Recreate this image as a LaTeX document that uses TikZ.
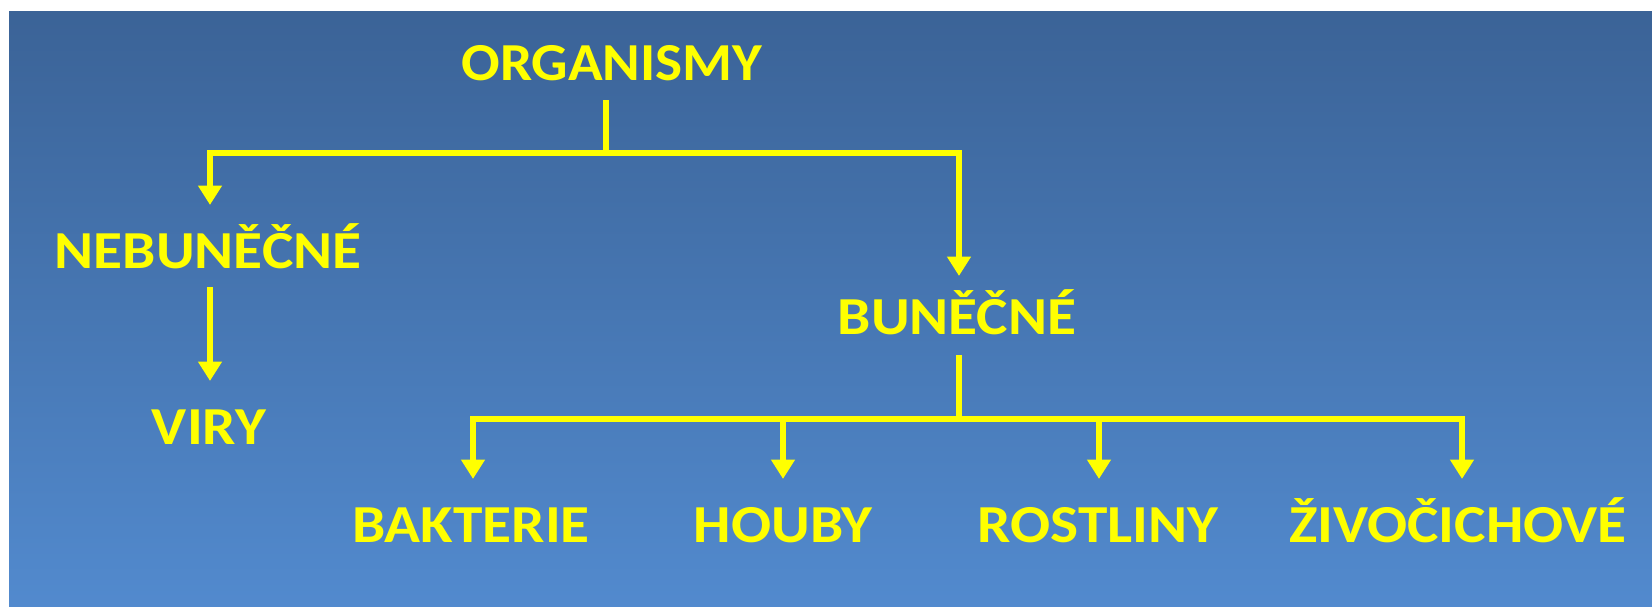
\documentclass[tikz,border=0pt]{standalone}
\usepackage{fontspec}
\setmainfont{Carlito}
\usetikzlibrary{arrows.meta}
\definecolor{bgtop}{RGB}{59,99,151}
\definecolor{bgbot}{RGB}{82,138,206}
\definecolor{ylw}{RGB}{255,255,0}
\newcommand\wide[1]{\scalebox{1.11}[1]{#1}}

\begin{document}
\begin{tikzpicture}[x=0.01cm, y=-0.01cm,
  lbl/.style={anchor=base, inner sep=0pt, text=ylw, font=\fontsize{15.2}{18}\selectfont\bfseries},
  link/.style={draw=ylw, line width=1.7pt},
  arr/.style={link, -{Triangle[width=6.5pt, length=5.5pt]}}]
\useasboundingbox (0,0) rectangle (1652,607);
\fill[white] (0,0) rectangle (1652,607);
\shade[top color=bgtop, bottom color=bgbot] (9,12) rectangle (1652,607);
\node[lbl] (org) at (612,81) {\scalebox{1.07}[1]{ORGANISMY}};
\node[lbl] (nebun) at (208,269) {\wide{NEBUNĚČNÉ}};
\node[lbl] (viry) at (209,445) {\wide{VIRY}};
\node[lbl] (bun) at (957,335) {\wide{BUNĚČNÉ}};
\node[lbl] (bakt) at (471,543) {\wide{BAKTERIE}};
\node[lbl] (houby) at (783,543) {\wide{HOUBY}};
\node[lbl] (rost) at (1098,543) {\wide{ROSTLINY}};
\node[lbl] (ziv) at (1458,543) {\wide{ŽIVOČICHOVÉ}};
\coordinate (fork1) at (606,153);
\coordinate (fork2) at (959,419);
\draw[link] ([yshift=-0.19cm]org.base -| fork1) -- (fork1);
\draw[arr] (fork1) -| ([yshift=0.64cm]nebun.base -| 210,0);
\draw[arr] (fork1) -| ([yshift=0.59cm]bun.base -| fork2);
\draw[arr] ([yshift=-0.18cm]nebun.base -| 210,0) -- ([yshift=0.64cm]viry.base -| 210,0);
\draw[link] ([yshift=-0.20cm]bun.base -| fork2) -- (fork2);
\foreach \n/\xa in {bakt/473,houby/783,rost/1099,ziv/1462}
  \draw[arr] (fork2) -| ([yshift=0.64cm]\n.base -| \xa,0);
\end{tikzpicture}
\end{document}
